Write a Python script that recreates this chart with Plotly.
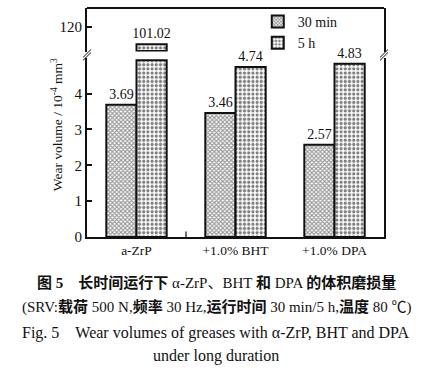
import plotly.graph_objects as go

categories = ["a-ZrP", "+1.0% BHT", "+1.0% DPA"]
v_30min = [3.69, 3.46, 2.57]
v_5h = [101.02, 4.74, 4.83]
labels_30min = ["3.69", "3.46", "2.57"]
labels_5h = ["101.02", "4.74", "4.83"]
lower_ticks = [0, 1, 2, 3, 4]
upper_ticks = [120]

LOW_MAX = 4.98     # top of lower axis
LOW_CAP = 4.93     # where broken bars stop in the lower panel
UP_MIN = 93.0      # bottom of upper axis
UP_BASE = 93.6     # where broken bars start in the upper panel
UP_MAX = 141.0

SERIF = "Liberation Serif"
CAP = "Liberation Serif, Noto Sans CJK SC"

pat30 = dict(shape="x", size=3, solidity=0.6, fgcolor="#333", bgcolor="white")
pat5 = dict(shape=".", size=4.2, solidity=0.45, fgcolor="#000", bgcolor="white")
line = dict(color="#111", width=2)
lblfont = dict(family=SERIF, size=14, color="#111")

low5 = [min(v, LOW_CAP) for v in v_5h]
low5_txt = [t if v <= LOW_MAX else "" for v, t in zip(v_5h, labels_5h)]
up5 = [v - UP_BASE if v > LOW_MAX else None for v in v_5h]
up5_txt = [t if v > LOW_MAX else "" for v, t in zip(v_5h, labels_5h)]

fig = go.Figure()
fig.add_bar(x=categories, y=v_30min, name="30 min", marker=dict(pattern=pat30, line=line, color="white"),
            text=labels_30min, textposition="outside", textfont=lblfont, constraintext="none",
            xaxis="x", yaxis="y", offsetgroup="a", cliponaxis=False)
fig.add_bar(x=categories, y=low5, name="5 h", marker=dict(pattern=pat5, line=line, color="white"),
            text=low5_txt, textposition="outside", textfont=lblfont, constraintext="none",
            xaxis="x", yaxis="y", offsetgroup="b", cliponaxis=False)
fig.add_bar(x=categories, y=[None, None, None], showlegend=False, marker=dict(pattern=pat30, line=line, color="white"),
            xaxis="x2", yaxis="y2", offsetgroup="a")
fig.add_bar(x=categories, y=up5, base=UP_BASE, showlegend=False, marker=dict(pattern=pat5, line=line, color="white"),
            text=up5_txt, textposition="outside", textfont=lblfont, constraintext="none",
            xaxis="x2", yaxis="y2", offsetgroup="b", cliponaxis=False)

L_TOP = 0.78
U_BOT = 0.81
axcommon = dict(showline=True, linecolor="#111", linewidth=2, mirror=True, ticks="inside",
                ticklen=5, tickwidth=1.5, tickcolor="#111", showgrid=False, zeroline=False,
                tickfont=dict(family=SERIF, size=15, color="#111"))
fig.update_layout(
    width=441, height=374, margin=dict(l=87, r=57, t=7, b=137),
    paper_bgcolor="white", plot_bgcolor="white",
    barmode="group", bargap=0.39, bargroupgap=0,
    showlegend=True,
    legend=dict(x=0.575, y=1.005, xanchor="left", yanchor="top", bgcolor="rgba(0,0,0,0)",
                font=dict(family=SERIF, size=14, color="#111"), itemwidth=30, tracegroupgap=0),
    xaxis=dict(domain=[0, 1], anchor="y", showline=True, linecolor="#111", linewidth=2,
               ticks="", showgrid=False, tickfont=dict(family=SERIF, size=13.5, color="#111")),
    xaxis2=dict(domain=[0, 1], anchor="y2", matches="x", showticklabels=False, showline=False,
                ticks="", showgrid=False),
    yaxis=dict(domain=[0, L_TOP], range=[0, LOW_MAX], tickvals=lower_ticks, **axcommon),
    yaxis2=dict(domain=[U_BOT, 1], range=[UP_MIN, UP_MAX], tickvals=upper_ticks, **axcommon),
)

shapes = []
shapes.append(dict(type="line", xref="paper", yref="paper", x0=0, x1=1, y0=1, y1=1, line=dict(color="#111", width=2)))
shapes.append(dict(type="line", xref="x", yref="y", x0=0.5, x1=0.5, y0=0, y1=0.15, line=dict(color="#111", width=1.2)))
yb = (L_TOP + U_BOT) / 2
dx = 4 / 297
dy = 4 / 230
for xp in (0, 1):
    for off in (-1.5, 1.5):
        shapes.append(dict(type="line", xref="paper", yref="paper",
                           x0=xp - dx, x1=xp + dx, y0=yb - dy + off / 230, y1=yb + dy + off / 230,
                           line=dict(color="#111", width=1)))
fig.update_layout(shapes=shapes)

ann = [
    dict(text="Wear volume / 10<sup>-4</sup> mm<sup>3</sup>", textangle=-90, x=-0.135, y=0.49,
         xref="paper", yref="paper", showarrow=False, font=dict(family=SERIF, size=13.5, color="#111")),
]
captions = [
    ("<b>图 5</b>　<b>长时间运行下</b> α-ZrP、BHT <b>和</b> DPA <b>的体积磨损量</b>", 283, CAP, 15),
    ("(SRV:<b>载荷</b> 500 N,<b>频率</b> 30 Hz,<b>运行时间</b> 30 min/5 h,<b>温度</b> 80 ℃)", 307, CAP, 15),
    ("Fig. 5　Wear volumes of greases with α-ZrP, BHT and DPA", 333, SERIF, 16),
    ("under long duration", 357, SERIF, 16),
]
for txt, ypx, fam, sz in captions:
    ann.append(dict(text=txt, x=(216 - 87) / 297, y=(237 - ypx) / 230, xref="paper", yref="paper",
                    xanchor="center", yanchor="middle", showarrow=False,
                    font=dict(family=fam, size=sz, color="#111")))
fig.update_layout(annotations=ann)

fig.write_html("out.html", config={"displayModeBar": False},
               post_script="document.body.style.margin='0';")
